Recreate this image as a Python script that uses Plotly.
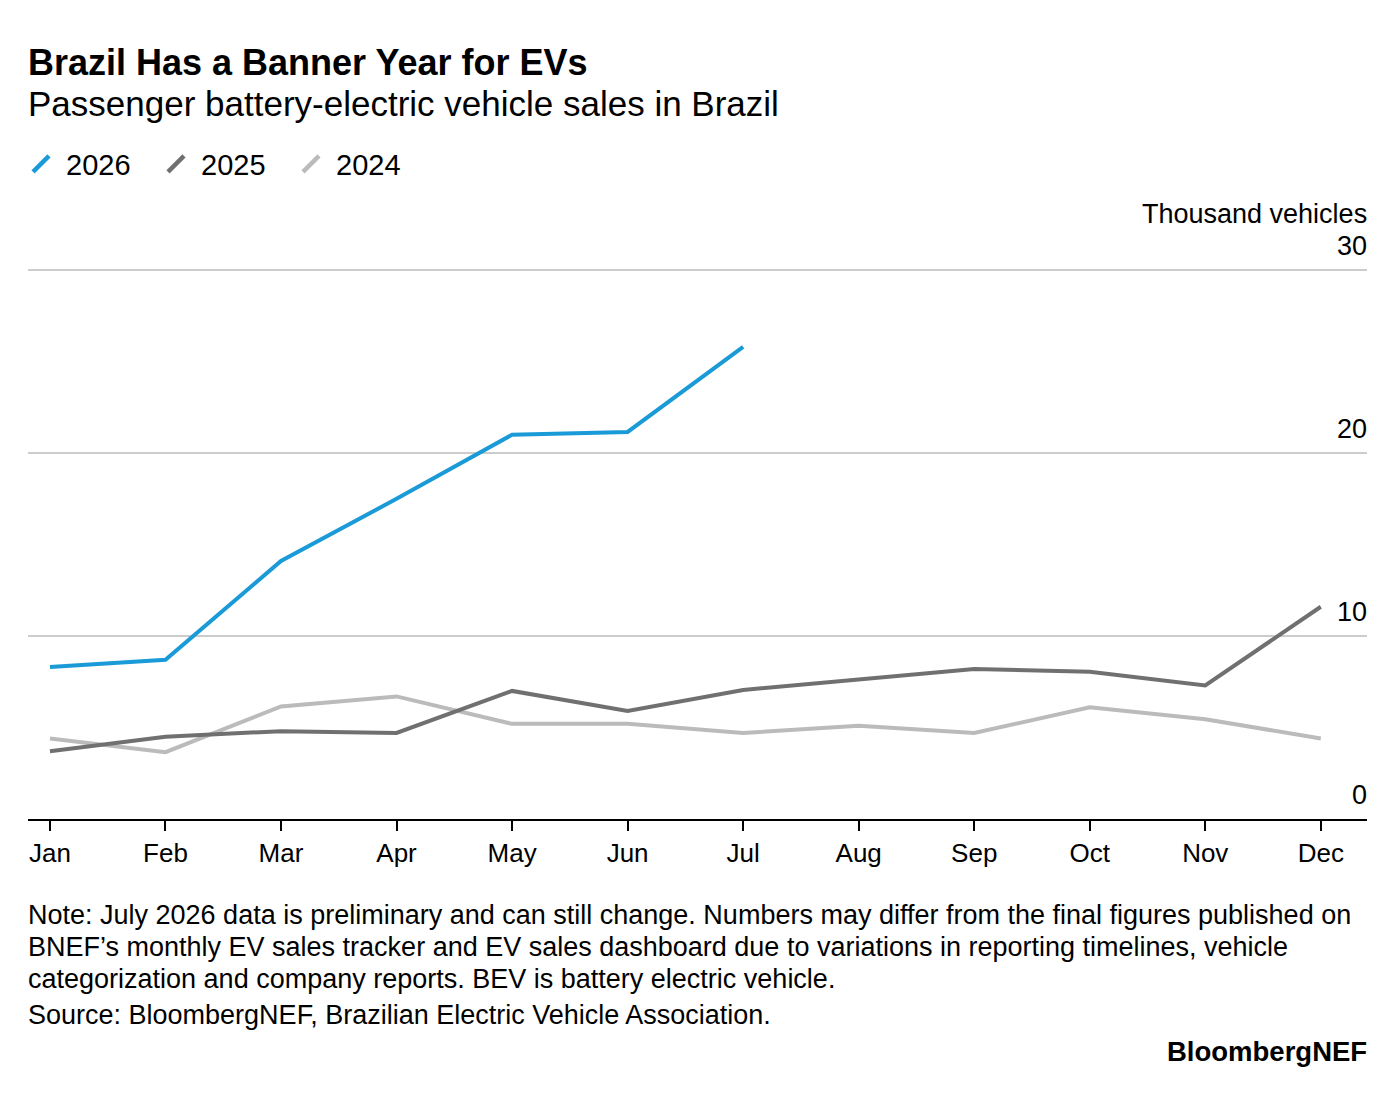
import plotly.graph_objects as go

months = ["Jan", "Feb", "Mar", "Apr", "May", "Jun", "Jul", "Aug", "Sep", "Oct", "Nov", "Dec"]
sales_2026 = [8.3, 8.7, 14.1, 17.5, 21.0, 21.15, 25.8]
sales_2025 = [3.7, 4.5, 4.8, 4.7, 7.0, 5.9, 7.05, 7.65, 8.2, 8.05, 7.3, 11.6]
sales_2024 = [4.4, 3.65, 6.15, 6.7, 5.2, 5.2, 4.7, 5.1, 4.7, 6.1, 5.45, 4.4]
y_ticks = [0, 10, 20, 30]

series = [
    ("2026", sales_2026, "#1A9BD7"),
    ("2025", sales_2025, "#707070"),
    ("2024", sales_2024, "#BBBBBB"),
]

FONT = "Liberation Sans, Arial, sans-serif"
x_idx = list(range(len(months)))

fig = go.Figure()
for name, vals, color in reversed(series):
    fig.add_trace(go.Scatter(
        x=x_idx[:len(vals)], y=vals, mode="lines", name=name,
        line=dict(color=color, width=4), showlegend=False, hoverinfo="skip",
    ))
for name, vals, color in series:
    fig.add_trace(go.Scatter(
        x=[None], y=[None], mode="markers", name=name,
        marker=dict(symbol="line-ne", size=19, line=dict(color=color, width=4.5)),
        showlegend=True,
    ))

# page body has an 8px margin; screen pixel -> paper coordinate
FIG_W, FIG_H = 1380, 1078
PLOT_BOTTOM = 819
PLOT_H = 553
def py(p):
    return (PLOT_BOTTOM - p) / PLOT_H

notes = [
    "Note: July 2026 data is preliminary and can still change. Numbers may differ from the final figures published on",
    "BNEF’s monthly EV sales tracker and EV sales dashboard due to variations in reporting timelines, vehicle",
    "categorization and company reports. BEV is battery electric vehicle.",
]
note_y = [915, 947, 979]

annotations = [
    dict(text="<b>Brazil Has a Banner Year for EVs</b>", x=0, y=py(62), xanchor="left", yanchor="middle",
         font=dict(size=36, color="#000000", family=FONT), xshift=-2),
    dict(text="Passenger battery-electric vehicle sales in Brazil", x=0, y=py(104), xanchor="left", yanchor="middle",
         font=dict(size=35, color="#000000", family=FONT), xshift=-2),
    dict(text="Thousand vehicles", x=1, y=py(214), xanchor="right", yanchor="middle",
         font=dict(size=27, color="#000000", family=FONT), xshift=2),
    dict(text="Source: BloombergNEF, Brazilian Electric Vehicle Association.", x=0, y=py(1015), xanchor="left", yanchor="middle",
         font=dict(size=27, color="#000000", family=FONT), xshift=-2),
    dict(text="<b>BloombergNEF</b>", x=1, y=py(1051), xanchor="right", yanchor="middle",
         font=dict(size=27.5, color="#000000", family=FONT), xshift=2),
]
for t, yy in zip(notes, note_y):
    annotations.append(dict(text=t, x=0, y=py(yy), xanchor="left", yanchor="middle", align="left",
                            font=dict(size=27, color="#000000", family=FONT), xshift=-2))
for a in annotations:
    a.update(xref="paper", yref="paper", showarrow=False)

# y tick labels placed above their gridlines at the right edge
for v in y_ticks:
    annotations.append(dict(text=str(v), x=1, xref="paper", y=v, yref="y", xanchor="right", yanchor="middle",
                            yshift=24, xshift=2, showarrow=False,
                            font=dict(size=27, color="#000000", family=FONT)))

fig.update_layout(
    width=FIG_W, height=FIG_H,
    margin=dict(l=20, r=21, t=258, b=267, pad=0),
    paper_bgcolor="white", plot_bgcolor="white",
    font=dict(family=FONT, size=26, color="#000000"),
    annotations=annotations,
    legend=dict(orientation="h", xref="container", yref="container",
                x=8 / FIG_W, y=(FIG_H - (164 - 8)) / FIG_H, xanchor="left", yanchor="middle",
                font=dict(size=29, family=FONT, color="#000000"),
                entrywidth=80, entrywidthmode="pixels", itemwidth=40, bgcolor="rgba(0,0,0,0)"),
    xaxis=dict(
        range=[-0.19, 11.4], tickvals=x_idx, ticktext=months,
        showgrid=False, zeroline=False, showline=True, linecolor="#000000", linewidth=2,
        ticks="outside", ticklen=10, tickwidth=1.5, tickcolor="#000000",
        tickfont=dict(size=26, family=FONT, color="#000000"), fixedrange=True,
    ),
    yaxis=dict(
        range=[0, 30.22], tickvals=y_ticks, showticklabels=False,
        showgrid=True, gridcolor="#CCCCCC", gridwidth=1.5, zeroline=False, showline=False,
        ticks="", fixedrange=True,
    ),
    hovermode=False,
)

fig.write_html("out.html")
